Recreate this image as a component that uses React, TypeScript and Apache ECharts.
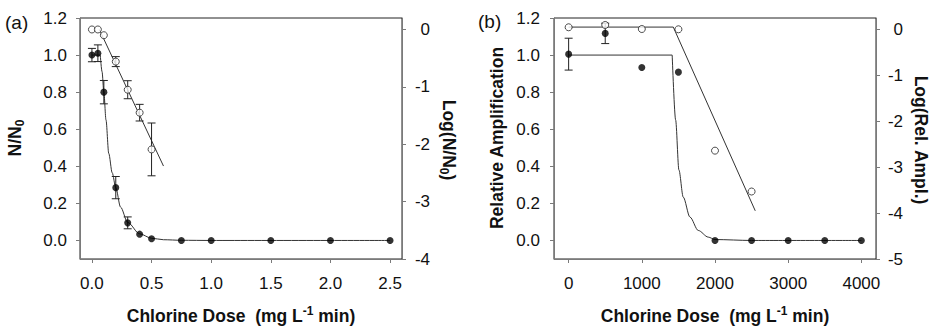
import React, { useEffect, useRef } from 'react';
import * as echarts from 'echarts';

// ---------- Panel (a) ----------
const aTickX = [0, 0.5, 1.0, 1.5, 2.0, 2.5];
const aTickLeft = [0, 0.2, 0.4, 0.6, 0.8, 1.0, 1.2];
const aTickRight = [0, -1, -2, -3, -4];

const aDoseFilled = [0, 0.05, 0.1, 0.2, 0.3, 0.4, 0.5, 0.75, 1.0, 1.5, 2.0, 2.5];
const aRatioFilled = [1.0, 1.01, 0.8, 0.285, 0.095, 0.034, 0.009, 0, 0, 0, 0, 0];
const aErrFilled = [0.036, 0.045, 0.063, 0.06, 0.032, 0, 0, 0, 0, 0, 0, 0];

const aDoseOpen = [0, 0.05, 0.1, 0.2, 0.3, 0.4, 0.5];
const aLogOpen = [0, 0, -0.1, -0.56, -1.05, -1.45, -2.09];
const aErrOpen = [0, 0, 0, 0.087, 0.157, 0.145, 0.46];

const aFitPlateauDose = [0, 0.07];
const aFitPlateauRatio = [1.0, 1.0];
const aFitDecayDose = [0.07, 0.085, 0.1, 0.118, 0.141, 0.17, 0.2, 0.24, 0.3, 0.4, 0.5, 0.6, 0.75, 1.0, 2.5];
const aFitDecayRatio = [1.0, 0.91, 0.8, 0.65, 0.47, 0.365, 0.285, 0.18, 0.097, 0.036, 0.012, 0.004, 0.001, 0, 0];

const aFitOpenDose = [0.062, 0.6];
const aFitOpenLog = [0, -2.38];

// ---------- Panel (b) ----------
const bTickX = [0, 1000, 2000, 3000, 4000];
const bTickLeft = [0, 0.2, 0.4, 0.6, 0.8, 1.0, 1.2];
const bTickRight = [0, -1, -2, -3, -4, -5];

const bDoseFilled = [0, 500, 1000, 1500, 2000, 2500, 3000, 3500, 4000];
const bAmpFilled = [1.005, 1.117, 0.933, 0.908, 0, 0, 0, 0, 0];
const bErrFilled = [0.086, 0.055, 0, 0, 0, 0, 0, 0, 0];

const bDoseOpen = [0, 500, 1000, 1500, 2000, 2500];
const bLogOpen = [0.048, 0.098, 0.01, 0.004, -2.64, -3.53];

const bFitPlateauDose = [0, 1415];
const bFitPlateauAmp = [1.0, 1.0];
const bFitDecayDose = [1415, 1462, 1507, 1566, 1658, 1771, 1908, 2000, 2500, 4000];
const bFitDecayAmp = [1.0, 0.65, 0.38, 0.234, 0.126, 0.054, 0.018, 0.005, 0, 0];

const bFitOpenDose = [0, 1430, 2550];
const bFitOpenLog = [0.052, 0.052, -3.95];

// ---------- helpers ----------
const FONT = "'Liberation Sans', Arial, Helvetica, sans-serif";
const AXIS_COLOR = '#7a7a7a';
const INK = '#111';
const TICK_FS = 17;
const TITLE_FS = 17.5;

const zip = (xs: number[], ys: number[]) => xs.map((x, i) => [x, ys[i]]);

function errorBars(xs: number[], ys: number[], errs: number[], xi: number, yi: number) {
  const data = xs
    .map((x, i) => [x, ys[i] - errs[i], ys[i] + errs[i]])
    .filter((_, i) => errs[i] > 0);
  return {
    type: 'custom',
    xAxisIndex: xi,
    yAxisIndex: yi,
    data,
    silent: true,
    z: 3,
    encode: { x: 0, y: [1, 2] },
    renderItem: (_p: any, api: any) => {
      const x = api.value(0);
      const lo = api.coord([x, api.value(1)]);
      const hi = api.coord([x, api.value(2)]);
      const hw = 4;
      const st = { stroke: '#222', lineWidth: 1 };
      return {
        type: 'group',
        children: [
          { type: 'line', shape: { x1: lo[0], y1: lo[1], x2: hi[0], y2: hi[1] }, style: st },
          { type: 'line', shape: { x1: lo[0] - hw, y1: lo[1], x2: lo[0] + hw, y2: lo[1] }, style: st },
          { type: 'line', shape: { x1: hi[0] - hw, y1: hi[1], x2: hi[0] + hw, y2: hi[1] }, style: st },
        ],
      };
    },
  };
}

function fitLine(xs: number[], ys: number[], xi: number, yi: number, smooth: number | boolean) {
  return {
    type: 'line',
    xAxisIndex: xi,
    yAxisIndex: yi,
    data: zip(xs, ys),
    symbol: 'none',
    smooth,
    smoothMonotone: 'x',
    lineStyle: { color: '#333', width: 1 },
    silent: true,
    z: 2,
  };
}

function filledPts(xs: number[], ys: number[], xi: number, yi: number) {
  return {
    type: 'scatter',
    xAxisIndex: xi,
    yAxisIndex: yi,
    data: zip(xs, ys),
    symbol: 'circle',
    symbolSize: 7,
    itemStyle: { color: '#000' },
    silent: true,
    z: 4,
  };
}

function openPts(xs: number[], ys: number[], xi: number, yi: number) {
  return {
    type: 'scatter',
    xAxisIndex: xi,
    yAxisIndex: yi,
    data: zip(xs, ys),
    symbol: 'circle',
    symbolSize: 7,
    itemStyle: { color: '#fff', borderColor: '#222', borderWidth: 1 },
    silent: true,
    z: 4,
  };
}

function valueAxis(extra: any) {
  const { label, ticks, ...rest } = extra;
  return {
    type: 'value',
    axisLine: { show: true, onZero: false, lineStyle: { color: AXIS_COLOR, width: 1 } },
    axisTick: { show: true, inside: false, length: 4, lineStyle: { color: AXIS_COLOR }, customValues: ticks },
    splitLine: { show: false },
    axisLabel: { color: INK, fontSize: TICK_FS, fontFamily: FONT, customValues: ticks, ...label },
    ...rest,
  };
}

const fmt1 = (v: number) => v.toFixed(1);
const fmt0 = (v: number) => String(Math.round(v) === 0 ? 0 : Math.round(v));

const titleRich = {
  b: { fontFamily: FONT, fontSize: TITLE_FS, fontWeight: 'bold', lineHeight: 22, fill: INK },
  s: { fontFamily: FONT, fontSize: 12, fontWeight: 'bold', lineHeight: 12, verticalAlign: 'bottom', fill: INK },
  p: { fontFamily: FONT, fontSize: 12, fontWeight: 'bold', lineHeight: 12, verticalAlign: 'top', fill: INK },
};

function textEl(x: number, y: number, text: string, rotation = 0) {
  return {
    type: 'text',
    x,
    y,
    rotation,
    silent: true,
    style: { text, rich: titleRich, align: 'center', verticalAlign: 'middle', fill: INK },
  };
}

function panelTag(x: number, y: number, text: string) {
  return {
    type: 'text',
    x,
    y,
    silent: true,
    style: { text, fontFamily: FONT, fontSize: 19, align: 'left', verticalAlign: 'middle', fill: INK },
  };
}

function buildOption() {
  return {
    animation: false,
    backgroundColor: '#fff',
    grid: [
      { left: 80, top: 18, width: 322, height: 241, show: true, borderColor: '#222', borderWidth: 1, backgroundColor: 'transparent' },
      { left: 554, top: 18, width: 322, height: 241, show: true, borderColor: '#222', borderWidth: 1, backgroundColor: 'transparent' },
    ],
    xAxis: [
      valueAxis({ gridIndex: 0, min: -0.1, max: 2.6, ticks: aTickX, label: { margin: 16, formatter: fmt1 } }),
      valueAxis({ gridIndex: 1, min: -200, max: 4200, ticks: bTickX, label: { margin: 16, formatter: fmt0 } }),
    ],
    yAxis: [
      valueAxis({ gridIndex: 0, position: 'left', min: -0.1, max: 1.2, ticks: aTickLeft, label: { margin: 13, formatter: fmt1 } }),
      valueAxis({ gridIndex: 0, position: 'right', min: -4, max: 0.2, ticks: aTickRight, label: { margin: 28, align: 'right', formatter: fmt0 } }),
      valueAxis({ gridIndex: 1, position: 'left', min: -0.1, max: 1.2, ticks: bTickLeft, label: { margin: 14, formatter: fmt1 } }),
      valueAxis({ gridIndex: 1, position: 'right', min: -5, max: 0.25, ticks: bTickRight, label: { margin: 27, align: 'right', formatter: fmt0 } }),
    ],
    series: [
      // panel (a)
      fitLine(aFitPlateauDose, aFitPlateauRatio, 0, 0, false),
      fitLine(aFitDecayDose, aFitDecayRatio, 0, 0, 0.3),
      fitLine(aFitOpenDose, aFitOpenLog, 0, 1, false),
      errorBars(aDoseFilled, aRatioFilled, aErrFilled, 0, 0),
      errorBars(aDoseOpen, aLogOpen, aErrOpen, 0, 1),
      filledPts(aDoseFilled, aRatioFilled, 0, 0),
      openPts(aDoseOpen, aLogOpen, 0, 1),
      // panel (b)
      fitLine(bFitPlateauDose, bFitPlateauAmp, 1, 2, false),
      fitLine(bFitDecayDose, bFitDecayAmp, 1, 2, 0.3),
      fitLine(bFitOpenDose, bFitOpenLog, 1, 3, false),
      errorBars(bDoseFilled, bAmpFilled, bErrFilled, 1, 2),
      filledPts(bDoseFilled, bAmpFilled, 1, 2),
      openPts(bDoseOpen, bLogOpen, 1, 3),
    ],
    graphic: [
      panelTag(5, 22, '(a)'),
      panelTag(478, 21, '(b)'),
      textEl(15, 138, '{b|N/N}{s|0}', Math.PI / 2),
      textEl(449, 140, '{b|Log(N/N}{s|0}{b|)}', -Math.PI / 2),
      textEl(497, 138, '{b|Relative Amplification}', Math.PI / 2),
      textEl(921, 140, '{b|Log(Rel. Ampl.)}', -Math.PI / 2),
      textEl(241, 316, '{b|Chlorine Dose  (mg L}{p|-1}{b| min)}'),
      textEl(715, 316, '{b|Chlorine Dose  (mg L}{p|-1}{b| min)}'),
    ],
  };
}

export default function App() {
  const ref = useRef<HTMLDivElement>(null);
  useEffect(() => {
    if (!ref.current) return;
    const chart = echarts.init(ref.current, null, { renderer: 'svg' });
    chart.setOption(buildOption() as any);
    return () => chart.dispose();
  }, []);
  return (
    <div
      ref={ref}
      style={{ position: 'absolute', left: 0, top: 0, width: 931, height: 327, background: '#fff' }}
    />
  );
}
